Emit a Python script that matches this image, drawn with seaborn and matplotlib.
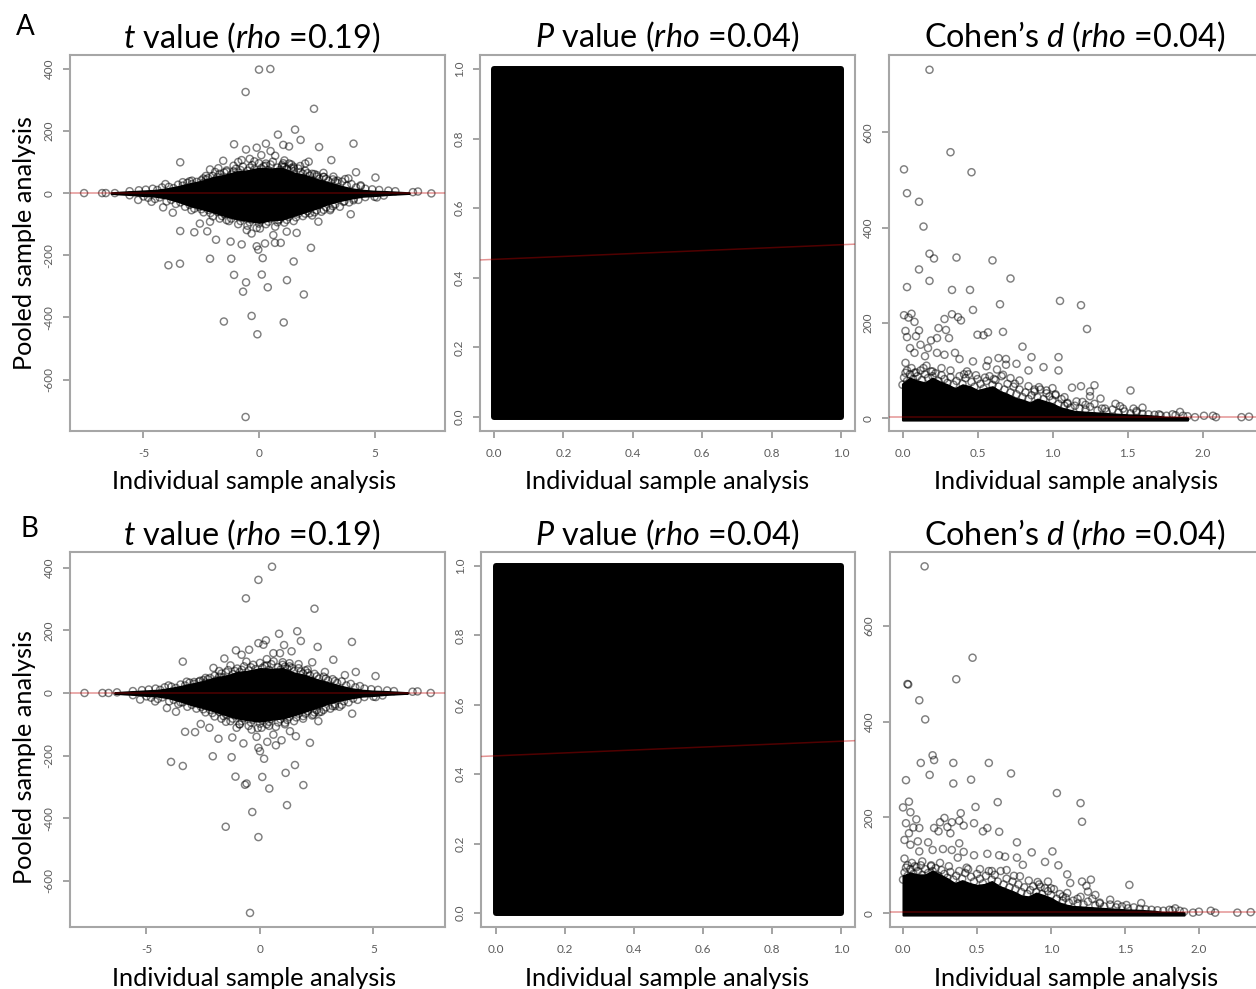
import matplotlib
matplotlib.use('Agg')
import matplotlib.pyplot as plt
import seaborn as sns

# values. Solid black cores are kept as envelopes, rings as points.
t_core_x = [-6.4, -6, -5.5, -5, -4.5, -4, -3.5, -3, -2.5, -2, -1.5, -1, -0.5, 0, 0.5, 1, 1.5, 2, 2.5, 3, 3.5, 4, 4.5, 5, 5.5, 6, 6.5]
t_a_top = [1, 3, 5, 7, 9, 14, 21, 30, 38, 50, 57, 68, 72, 80, 78, 80, 65, 57, 44, 34, 23, 14, 9, 6, 5, 3, 1]
t_a_bot = [-1, -3, -5, -8, -10, -16, -27, -40, -50, -60, -72, -82, -88, -94, -86, -84, -72, -60, -48, -34, -24, -16, -10, -8, -5, -3, -1]
t_b_top = [1, 3, 5, 7, 9, 14, 21, 29, 37, 48, 54, 66, 70, 78, 76, 78, 64, 56, 43, 33, 23, 14, 9, 6, 5, 3, 1]
t_b_bot = [-1, -3, -5, -8, -10, -16, -26, -38, -47, -58, -70, -80, -86, -90, -84, -80, -70, -58, -46, -33, -23, -16, -10, -8, -5, -3, -1]

t_a_x = [0, 0.49, -0.58, 2.38, 1.56, 0.82, 1.8, -1.08, 4.09, 2.6, 0.3, -0.1, -0.56, 1.05, 1.3, 3.13, -3.41, 4.2, 5.04, 2.15, -1.55, -0.75, 2.79,
         -3.73, 3.97, -3.41, -2.8, -2.24, -1.86, -1.23, -0.75, 1.63, 1.2, 2.25, 0.26, 0.69, 0.94, -3.92, -3.42, -2.12, -1.2, 0.16, 1.5,
         -1.08, 0.12, -0.56, 1.21, 0.38, -0.69, 1.94, -0.32, -1.52, 1.07, -0.07, -0.58, -0.1, -0.03,
         -7.57, -6.79, -6.63, -6.24, 7.46, 6.88, 6.66,
         -5.23, -4.65, -4.15, -4.05, -2.41, -2.12, -1.76, -1.4, 3.73, 3.87, 3.22, 1.78, 1.49, 1.05, 5.1, 4.09, 3.66, 3.08, 2.57, 2.2,
         -2.56, -2.12, -2.92, -1.4, -0.53, -0.32, 0.04, 0.62, 0.84,
         -0.9, -0.4, 0.1, 0.5, 0.7, 1.1, 1.4, 2.0, 2.5, -2.9, -2.3, -1.9, -1.1, -0.2, 0.3, 1.0, 1.5, 2.3, 2.8, -3.3, -3.0, 3.4, 4.4]
t_a_y = [397, 399, 325, 271, 204, 188, 171, 157, 159, 148, 159, 146, 140, 155, 150, 106, 99, 67, 50, 101, 104, 106, 65,
         -63, -68, -122, -126, -123, -150, -156, -165, -128, -124, -176, -162, -160, -160, -232, -227, -211, -211, -209, -220,
         -263, -262, -287, -280, -303, -317, -326, -395, -413, -416, -454, -720, -171, -182,
         0, 0, 0, 0, -1, 5, 3,
         -22, -28, -46, 29, 47, 76, 80, 69, 45, 47, 53, 87, 85, 96, -14, -23, -28, -55, -92, -65,
         -98, -92, -55, -87, -119, -130, -114, -135, -87,
         100, 110, 122, 135, 120, 105, 92, 95, 58, 40, 55, 68, 88, 102, 95, 85, 80, 62, 52, 35, 38, 40, 25]

t_b_x = [0.53, -0.07, -0.62, 2.4, 1.64, 0.84, 1.8, 4.05, 2.54, 1.06, 0.26, -0.07, -1.06, -0.48, 1.39, 0.15, -1.57, 3.23, -3.4, 2.3, 4.22, 5.09, 2.86, 3.74,
         -0.81, 0.59, 0.88, -4.03, -3.23, -2.64, -2.05, 7.52, 6.94, 6.72, -7.73, -6.94, -6.67, -6.3,
         4.06, -3.7, -5.28, -4.62, -4.1, 5.1, 2.57, -3.3, -2.86, -2.61, -2.23, -1.83, -1.22, -0.73, 0.32, 0.7, 0.95, 0.59, 1.32, 1.58, 2.2,
         -2.08, -1.25, -0.07, 0, 0.18, 1.54, -3.92, -3.4, -1.08, 0.1, 1.13, -0.59, -0.66, 0.41, 1.91, 1.19, -0.34, -1.51, -0.07, -0.44,
         -0.15, -0.37, 0.07, -1.03, 2.35,
         -1.3, -0.6, 0.3, 1.0, 1.3, 1.7, 2.1, -1.8, -2.4, -2.9, -1.5, -0.9, 0.4, 1.1, 1.9, 2.6, 3.3, 3.6, -3.5]
t_b_y = [403, 361, 302, 269, 197, 189, 166, 163, 147, 153, 168, 159, 136, 138, 133, 154, 110, 106, 100, 98, 67, 54, 67, 57,
         122, 127, 127, 24, 36, 39, 80, 0, 5, 4, 0, 0, 0, 2,
         -66, -60, -21, -27, -48, -13, -90, -124, -125, -99, -111, -146, -142, -161, -156, -167, -151, -133, -122, -138, -159,
         -202, -205, -175, -186, -210, -230, -220, -233, -267, -268, -255, -289, -293, -305, -294, -358, -380, -427, -460, -702,
         -140, -117, -111, -111, -69,
         88, 100, 108, 98, 85, 92, 75, 70, 48, 35, -92, -100, -105, -100, -82, -62, -42, -38, -30]

# rings crowding the edge of the t core, same look in both rows
t_edge_x = [-5.6, -5.2, -4.9, -4.6, -4.4, -4.2, -3.9, -3.7, -3.5, -3.3, -3.1, -2.9, -2.7, -2.5, -2.4, -2.2, -2.0, -1.9, -1.7, -1.6, -1.4, -1.2, -1.0, -0.9, -0.7, -0.5, -0.3, -0.2, 0.0, 0.1, 0.3, 0.4, 0.6, 0.8, 1.0, 1.2, 1.3, 1.5, 1.7, 1.9, 2.0, 2.2, 2.4, 2.6, 2.8, 3.0, 3.2, 3.4, 3.6, 3.8, 4.0, 4.2, 4.4, 4.6, 4.9, 5.2, 5.6, 5.9,
            -5.6, -5.0, -4.8, -4.5, -4.3, -4.0, -3.8, -3.6, -3.4, -3.2, -3.0, -2.8, -2.6, -2.4, -2.2, -2.0, -1.8, -1.7, -1.5, -1.3, -1.1, -0.9, -0.7, -0.5, -0.3, -0.1, 0.1, 0.3, 0.5, 0.7, 0.9, 1.1, 1.3, 1.5, 1.7, 1.9, 2.1, 2.3, 2.5, 2.7, 2.9, 3.1, 3.3, 3.5, 3.7, 3.9, 4.1, 4.3, 4.6, 5.0, 5.4,
            -2.3, -1.8, -1.5, -1.1, -0.8, -0.4, 0.2, 0.5, 0.9, 1.1, 1.4, 1.8, 2.1, 2.5, 2.9, 3.3,
            -2.5, -2.1, -1.6, -1.2, -0.8, -0.4, 0, 0.4, 0.8, 1.2, 1.6, 2.0, 2.4, 2.8, 3.2]
t_edge_y = [6, 9, 11, 14, 10, 18, 20, 16, 27, 24, 33, 29, 36, 41, 33, 48, 55, 42, 62, 50, 73, 60, 78, 66, 85, 72, 90, 76, 96, 80, 88, 74, 101, 82, 90, 78, 95, 70, 79, 62, 72, 56, 61, 46, 52, 40, 44, 32, 37, 24, 29, 18, 22, 14, 12, 10, 8, 6,
            -7, -11, -15, -19, -14, -27, -22, -35, -30, -44, -38, -50, -44, -62, -54, -75, -60, -82, -68, -90, -72, -100, -80, -105, -85, -112, -88, -100, -82, -108, -84, -95, -76, -90, -66, -74, -58, -72, -55, -60, -46, -50, -36, -44, -26, -30, -18, -22, -13, -12, -8,
            44, 52, 66, 70, 74, 82, 86, 92, 74, 84, 80, 68, 64, 53, 46, 38,
            -52, -64, -74, -82, -90, -94, -98, -92, -94, -86, -78, -66, -62, -54, -42]

p_x = [0, 1]
p_low = [0, 0]
p_high = [1, 1]

d_core_x = [0, 0.05, 0.1, 0.15, 0.2, 0.25, 0.3, 0.35, 0.4, 0.45, 0.5, 0.55, 0.6, 0.65, 0.7, 0.75, 0.8, 0.85, 0.9, 0.95, 1, 1.05, 1.1, 1.15, 1.2, 1.3, 1.4, 1.5, 1.6, 1.7, 1.75, 1.9]
d_a_top = [72, 84, 78, 74, 84, 76, 70, 62, 70, 66, 58, 62, 66, 56, 50, 42, 38, 32, 40, 35, 30, 22, 18, 14, 13, 11, 9, 7, 6, 4, 2, 1]
d_b_top = [78, 84, 80, 80, 88, 80, 72, 62, 68, 62, 58, 60, 66, 56, 50, 44, 36, 34, 42, 37, 31, 22, 17, 14, 13, 11, 9, 7, 6, 4, 2, 1]
d_bot = [-4] * len(d_core_x)

d_a_x = [0.18, 0.32, 0.01, 0.46, 0.03, 0.11, 0.14, 0.18, 0.21, 0.36, 0.6, 0.11, 0.18, 0.72, 0.03, 0.33, 0.45, 1.05, 0.65, 1.19, 0.47, 0.01, 0.06, 0.04, 0.08,
         0.28, 0.33, 0.37, 0.39, 1.23, 0.24, 0.29, 0.31, 0.5, 0.54, 0.57, 0.67, 0.02, 0.11, 0.09, 0.03, 0.23, 0.19, 0.8, 0.05, 0.12, 0.17, 0.08, 0.15, 0.23, 0.35, 0.28,
         0.86, 1.04, 0.64, 0.69, 0.38, 0.47, 0.57, 0.76, 0.69, 0.02, 0.94, 0.84, 1.04, 0.16, 0.56,
         1.28, 1.52, 1.13, 1.19, 1.25, 1.32, 1.42, 1.6, 1.25, 1.08, 1.0, 0.91, 0.84, 0.78, 0.67, 0.63, 0.43, 0.72, 1.16, 1.47, 1.54,
         1.85, 1.8, 1.9, 1.95, 2.01, 2.07, 2.09, 2.26, 2.31, 1.71,
         0.03, 0.08, 0.14, 0.2, 0.26, 0.32, 0.41, 0.49, 0.55, 0.61, 0.75, 0.88, 0.96, 1.02, 1.1, 1.22, 1.35, 1.45, 1.56]
d_a_y = [731, 558, 522, 516, 472, 454, 402, 345, 335, 337, 331, 312, 288, 293, 275, 269, 269, 246, 239, 237, 227, 216, 219, 211, 202,
         208, 218, 212, 205, 187, 189, 185, 168, 175, 174, 180, 181, 183, 184, 172, 170, 168, 163, 150, 147, 154, 147, 137, 130, 137, 137, 133,
         128, 128, 126, 124, 124, 119, 121, 114, 112, 116, 107, 100, 100, 110, 109,
         69, 58, 64, 67, 56, 41, 30, 22, 46, 44, 63, 65, 67, 79, 91, 102, 98, 84, 35, 20, 20,
         13, 8, 4, 2, 5, 5, 2, 2, 3, 8,
         100, 95, 105, 98, 105, 100, 92, 90, 85, 82, 72, 60, 58, 48, 30, 28, 20, 25, 15]

d_b_x = [0.146, 0.47, 0.36, 0.03, 0.035, 0.11, 0.15, 0.2, 0.21, 0.12, 0.34, 0.58, 0.18, 0.73, 0.02, 0.34, 0.46, 1.04, 0.64, 1.2, 0.04, 0, 0.05, 0.49, 0.39,
         0.09, 0.28, 1.21, 0.25, 0.33, 0.38, 0.48, 0.02, 0.3, 0.41, 0.21, 0.07, 0.11, 0.32, 0.24, 0.54, 0.57, 0.65, 0.04, 0.01, 0.77, 0.1, 0.17, 0.38, 0.05,
         0.11, 0.2, 0.27, 0.33, 0.87, 1.01, 0.41, 0.57, 0.48, 0.65, 0.69, 0.77, 0.37, 0.01, 0.96, 1.05, 0.81,
         1.11, 1.13, 1.21, 1.27, 1.24, 1.53, 1.25, 1.3, 1.11, 0.98, 0.91, 0.85, 0.79, 1.4, 1.61, 1.51,
         1.84, 1.9, 2.0, 2.08, 2.11, 2.26, 2.35, 1.8, 1.96,
         0.03, 0.08, 0.13, 0.19, 0.25, 0.31, 0.43, 0.52, 0.6, 0.7, 0.75, 0.93, 1.0, 1.08, 1.18, 1.33, 1.45]
d_b_y = [725, 534, 489, 479, 478, 445, 405, 330, 320, 314, 314, 314, 289, 292, 278, 271, 279, 251, 232, 230, 233, 221, 211, 222, 209,
         196, 199, 191, 190, 190, 193, 188, 188, 180, 183, 178, 179, 178, 167, 171, 171, 178, 170, 167, 153, 148, 150, 148, 146, 143,
         129, 132, 134, 132, 127, 129, 128, 124, 121, 121, 118, 116, 116, 114, 107, 100, 101,
         81, 63, 66, 70, 57, 59, 45, 38, 42, 66, 65, 68, 77, 28, 21, 17,
         10, 3, 3, 5, 1, 1, 2, 7, 1,
         100, 98, 108, 100, 105, 98, 95, 92, 88, 90, 78, 55, 52, 35, 30, 22, 18]

# rings crowding the top of the d core
d_edge_x = [0.0, 0.01, 0.02, 0.03, 0.05, 0.06, 0.07, 0.09, 0.1, 0.12, 0.13, 0.15, 0.17, 0.19, 0.2, 0.22, 0.24, 0.26, 0.28, 0.3, 0.32, 0.34, 0.36, 0.38, 0.4, 0.42, 0.44, 0.46, 0.48, 0.5, 0.52, 0.54, 0.56, 0.58, 0.6, 0.62, 0.64, 0.66, 0.68, 0.7, 0.72, 0.74, 0.76, 0.78, 0.8, 0.82, 0.84, 0.86, 0.88, 0.9, 0.92, 0.94, 0.96, 0.98, 1.0, 1.02, 1.04, 1.06, 1.08, 1.1, 1.12, 1.15, 1.18, 1.2, 1.22, 1.25, 1.28, 1.3, 1.33, 1.36, 1.4, 1.44, 1.48, 1.52, 1.56, 1.6, 1.64, 1.68, 1.72, 1.76, 1.82, 1.87]
d_edge_y = [70, 85, 95, 78, 92, 105, 82, 96, 88, 100, 80, 92, 84, 98, 88, 94, 78, 90, 82, 74, 86, 70, 78, 88, 72, 84, 92, 76, 66, 82, 72, 62, 78, 88, 70, 80, 66, 88, 60, 72, 54, 66, 50, 60, 44, 54, 40, 48, 56, 44, 60, 40, 52, 46, 38, 50, 30, 40, 26, 32, 22, 26, 20, 34, 18, 24, 30, 16, 20, 14, 18, 12, 14, 10, 12, 9, 8, 7, 6, 5, 6, 5]

# fitted lines: intercept, slope
t_fit = (0, 0)
p_fit = (0.453, 0.042)
d_fit = (3, 0)

W, H = 1256, 989
sns.set_theme(style='white')
plt.rcParams['font.family'] = ['Lato', 'DejaVu Sans']
plt.rcParams['mathtext.fontset'] = 'custom'
plt.rcParams['mathtext.rm'] = 'Lato'
plt.rcParams['mathtext.it'] = 'Lato:italic'
GREY = '#5c5c5c'

fig = plt.figure(figsize=(W / 100, H / 100), dpi=100, facecolor='white')


def panel(box, xlim, ylim, xticks, xlabels, yticks, ylabels):
    left, top, right, bottom = box
    ax = fig.add_axes([left / W, 1 - bottom / H, (right - left) / W, (bottom - top) / H])
    ax.set_xlim(xlim)
    ax.set_ylim(ylim)
    ax.set_xticks(xticks, xlabels)
    ax.set_yticks(yticks, ylabels)
    ax.tick_params(axis='both', length=5, width=1.1, color='#8a8a8a', labelsize=8.5, labelcolor=GREY, pad=6, bottom=True, left=True)
    ax.tick_params(axis='x', pad=7)
    for lab in ax.get_yticklabels():
        lab.set_rotation(90)
        lab.set_va('center')
    for sp in ax.spines.values():
        sp.set_color('#a6a6a6')
        sp.set_linewidth(1.5)
    return ax


def rings(ax, x, y):
    sns.scatterplot(x=x, y=y, ax=ax, s=26, marker='o', facecolor='none', edgecolor='black', linewidth=1.05, alpha=0.5, legend=False)


def core(ax, x, low, high, lw):
    ax.fill_between(x, low, high, facecolor='black', edgecolor='black', linewidth=lw, joinstyle='round')


def fit(ax, line):
    ax.axline((0, line[0]), slope=line[1], color='#c00000', alpha=0.42, linewidth=1.1, zorder=5)


def label(px, py, s, size, **kw):
    fig.text(px / W, 1 - py / H, s, fontsize=size, ha='center', va='center', color='black', **kw)


t_ticks = [-5, 0, 5]
t_yticks = [-600, -400, -200, 0, 200, 400]
p_ticks = [0, 0.2, 0.4, 0.6, 0.8, 1.0]
d_ticks = [0, 0.5, 1.0, 1.5, 2.0]
d_yticks = [0, 200, 400, 600]

rows = [
    dict(top=55, bottom=431, t=(t_a_x, t_a_y, t_a_top, t_a_bot), d=(d_a_x, d_a_y, d_a_top),
         tlim=((-8.18, 8.05), (-765, 444)), plim=((-0.04, 1.04), (-0.04, 1.04)), dlim=((-0.09, 2.41), (-27, 762)),
         pleft=480, dleft=889),
    dict(top=552, bottom=927, t=(t_b_x, t_b_y, t_b_top, t_b_bot), d=(d_b_x, d_b_y, d_b_top),
         tlim=((-8.37, 8.15), (-747, 450)), plim=((-0.044, 1.04), (-0.04, 1.04)), dlim=((-0.088, 2.44), (-29, 755)),
         pleft=481, dleft=890),
]

for row in rows:
    top, bottom = row['top'], row['bottom']

    ax = panel((70, top, 445, bottom), *row['tlim'], t_ticks, [str(v) for v in t_ticks], t_yticks, [str(v) for v in t_yticks])
    x, y, hi, lo = row['t']
    core(ax, t_core_x, lo, hi, 1.5)
    rings(ax, t_edge_x, t_edge_y)
    rings(ax, x, y)
    fit(ax, t_fit)

    ax = panel((row['pleft'], top, 855, bottom), *row['plim'], p_ticks, ['%.1f' % v for v in p_ticks], p_ticks, ['%.1f' % v for v in p_ticks])
    core(ax, p_x, p_low, p_high, 4.3)
    fit(ax, p_fit)

    ax = panel((row['dleft'], top, 1264, bottom), *row['dlim'], d_ticks, ['%.1f' % v for v in d_ticks], d_yticks, [str(v) for v in d_yticks])
    x, y, hi = row['d']
    core(ax, d_core_x, d_bot, hi, 1.5)
    rings(ax, d_edge_x, d_edge_y)
    rings(ax, x, y)
    fit(ax, d_fit)

T_SIZE = 23.3
L_SIZE = 18.2
for py, ly, ypos, letter, lx, lpy in [(38, 481, 243, 'A', 25, 27), (535, 978, 757, 'B', 29, 529)]:
    label(252, py, r'$\mathit{t}$ value ($\mathit{rho}$ =0.19)', T_SIZE)
    label(667, py - 1 if py == 38 else py, r'$\mathit{P}$ value ($\mathit{rho}$ =0.04)', T_SIZE)
    label(1075, py - 1 if py == 38 else py, "Cohen’s $\\mathit{d}$ ($\\mathit{rho}$ =0.04)", T_SIZE)
    for cx in (254, 667, 1076):
        label(cx, ly, 'Individual sample analysis', L_SIZE)
    label(25, ypos, 'Pooled sample analysis', L_SIZE, rotation=90)
    label(lx, lpy, letter, 20)

fig.savefig('out.png', dpi=100)
